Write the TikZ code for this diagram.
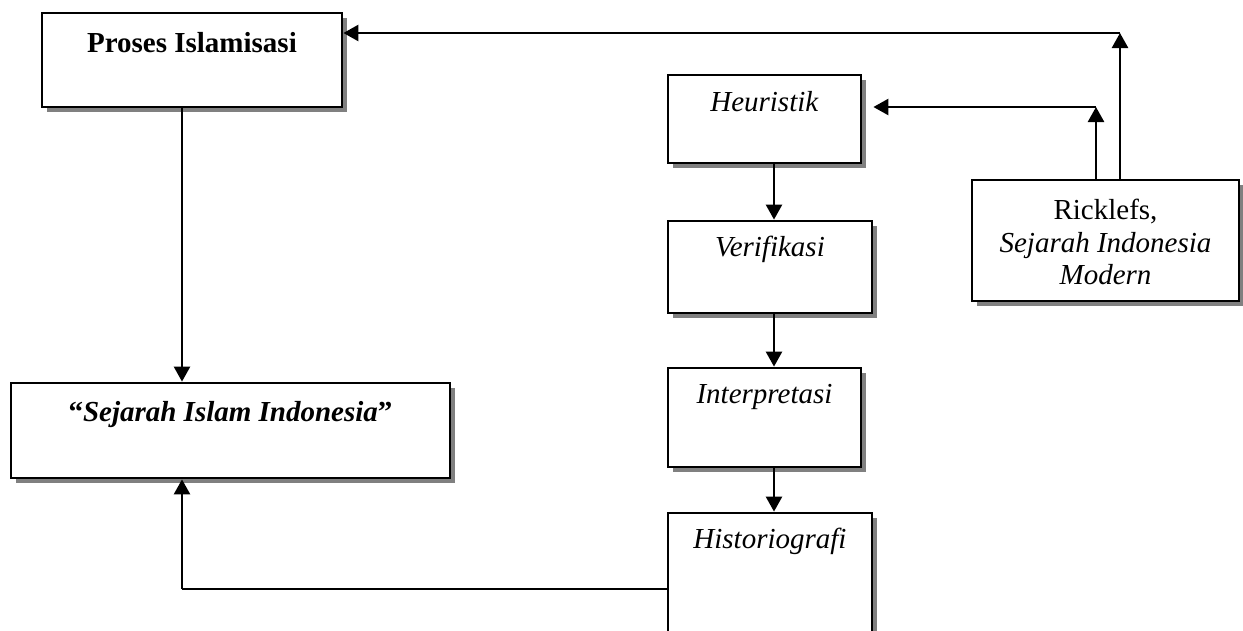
\documentclass[tikz,border=0pt]{standalone}
\usepackage{fontspec}
\setmainfont{Liberation Serif}
\usetikzlibrary{arrows.meta,shadows,calc}
\begin{document}
\begin{tikzpicture}[x=1pt,y=-1pt,
  box/.style={draw, line width=2.8pt, fill=white, rectangle, inner sep=0pt,
    drop shadow={shadow xshift=5pt, shadow yshift=-5pt, fill=black!50, opacity=1}},
  txt/.style={font=\fontsize{29}{32.5}\selectfont, inner sep=0pt, anchor=base, align=center},
  arr/.style={line width=2.5pt, -{Triangle[length=15pt,width=16pt]}},
  ln/.style={line width=2.5pt}]
\useasboundingbox (0,0) rectangle (1243,630);
% boxes
\node[box, minimum width=300pt, minimum height=94pt] (proses) at (192,60) {};
\node[box, minimum width=439pt, minimum height=95pt] (sejarah) at (230.5,430.5) {};
\node[box, minimum width=193pt, minimum height=88pt] (heur) at (764.5,119) {};
\node[box, minimum width=204pt, minimum height=92pt] (verif) at (770,267) {};
\node[box, minimum width=193pt, minimum height=99pt] (interp) at (764.5,417.5) {};
\node[box, minimum width=204pt, minimum height=160pt] (histo) at (770,593) {};
\node[box, minimum width=267pt, minimum height=121pt] (rick) at (1105.5,240.5) {};
% texts
\node[txt] (proses-t) at ([yshift=-41pt]proses.north) {\textbf{Proses Islamisasi}};
\node[txt] (sejarah-t) at ([yshift=-40pt]sejarah.north) {\textbf{“\textit{Sejarah Islam Indonesia}”}};
\node[txt] (heur-t) at ([yshift=-38pt]heur.north) {\textit{Heuristik}};
\node[txt] (verif-t) at ([yshift=-37pt]verif.north) {\textit{Verifikasi}};
\node[txt] (interp-t) at ([yshift=-37pt]interp.north) {\textit{Interpretasi}};
\node[txt] (histo-t) at ([yshift=-37pt]histo.north) {\textit{Historiografi}};
\node[txt] (rick-t) at ([yshift=-106pt]rick.north) {Ricklefs,\\\textit{Sejarah Indonesia}\\\textit{Modern}};
% helper coordinates
\coordinate (c1) at (1096,107);
\coordinate (c2) at (1120,33);
\coordinate (c3) at (182,589);
\coordinate (c4) at (774,0);
% connectors
\draw[arr] (heur.south -| c4) -- (verif.north -| c4);
\draw[arr] (verif.south -| c4) -- (interp.north -| c4);
\draw[arr] (interp.south -| c4) -- (histo.north -| c4);
\draw[arr] (proses.south -| c3) -- (sejarah.north -| c3);
\draw[arr] (rick.north -| c1) -- (c1);
\draw[arr, shorten >=11pt] (c1) -- (c1 -| heur.east);
\draw[arr] (rick.north -| c2) -- (c2);
\draw[arr] (c2) -- (c2 -| proses.east);
\draw[ln] (histo.west |- c3) -- (c3);
\draw[arr] (c3) -- (c3 |- sejarah.south);
\end{tikzpicture}
\end{document}
